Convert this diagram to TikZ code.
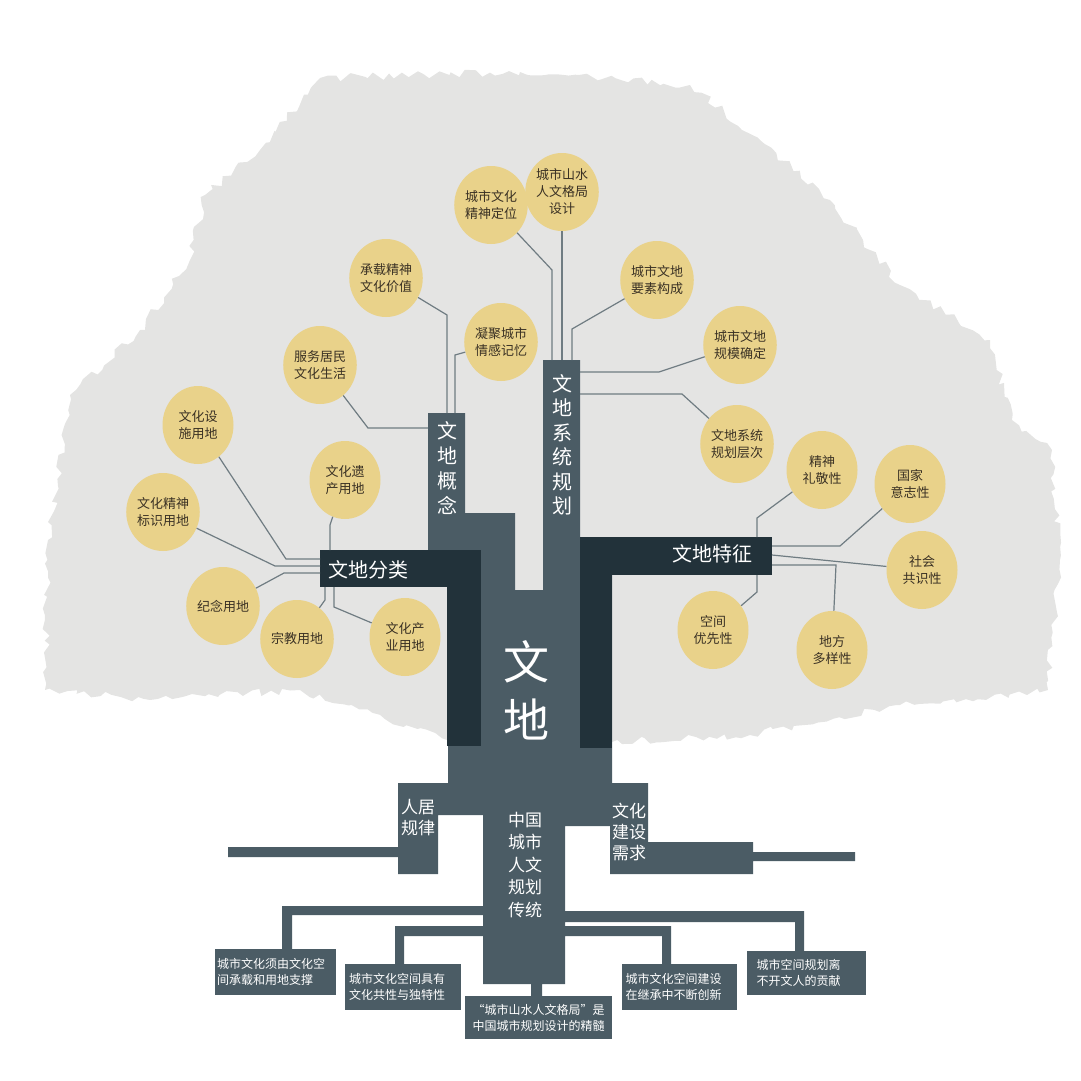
\documentclass[tikz,border=0pt]{standalone}
\usepackage{fontspec}
\setmainfont{Noto Sans CJK SC}
\usetikzlibrary{shapes.geometric,decorations.pathmorphing}
\definecolor{midg}{HTML}{4B5C65}
\definecolor{darkg}{HTML}{22323A}
\definecolor{leaf}{HTML}{E9D28A}
\definecolor{canopy}{HTML}{E4E4E3}
\definecolor{wire}{HTML}{6F7C82}
\definecolor{ink}{HTML}{3A3124}
\tikzset{
 ball/.style={ellipse,fill=leaf,minimum width=71pt,minimum height=78pt,inner sep=0pt,align=center,text=ink,font=\fontsize{13}{17}\selectfont},
 wl/.style={draw=wire,line width=1.2pt},
 wtxt/.style={text=white,align=center,inner sep=0pt},
 rootbox/.style={fill=midg,text=white,align=left,inner sep=0pt,font=\fontsize{12}{16}\selectfont},
}
\begin{document}
\begin{tikzpicture}[x=1pt,y=-1pt]
\useasboundingbox (0,0) rectangle (1080,1081);
% canopy
\fill[canopy,decorate,decoration={random steps,segment length=7pt,amplitude=4pt}]
 (45,690) -- (48,540) -- (70,395) -- (140,330) -- (190,260) -- (205,195) -- (260,150) -- (320,78) -- (520,72) -- (690,85) -- (760,140) -- (830,200) -- (900,285) -- (990,340) -- (1012,420) -- (1052,450) -- (1060,560) -- (1048,690) -- (900,705) -- (750,735) -- (612,742) -- (520,700) -- (447,740) -- (300,690) -- (150,700) -- cycle;
% mid trunk
\fill[midg] (428,413) -- (465,413) -- (465,513) -- (515,513) -- (515,590) -- (543,590) -- (543,360) -- (580,360) -- (580,537) -- (612,537) -- (612,783) -- (648,783) -- (648,842) -- (753,842) -- (753,852) -- (855,852) -- (855,861) -- (753,861) -- (753,874) -- (610,874) -- (610,826) -- (565,826) -- (565,911) -- (804,911) -- (804,951) -- (795,951) -- (795,922) -- (565,922) -- (565,926) -- (671,926) -- (671,964) -- (662,964) -- (662,936) -- (565,936) -- (565,984) -- (542,984) -- (542,996) -- (531,996) -- (531,984) -- (483,984) -- (483,936) -- (404,936) -- (404,964) -- (395,964) -- (395,926) -- (483,926) -- (483,915) -- (292,915) -- (292,949) -- (282,949) -- (282,906) -- (483,906) -- (483,815) -- (438,815) -- (438,874) -- (398,874) -- (398,857) -- (228,857) -- (228,847) -- (398,847) -- (398,783) -- (448,783) -- (448,550) -- (428,550) -- cycle;
% dark bars
\fill[darkg] (320,550) rectangle (481,587);
\fill[darkg] (447,550) rectangle (481,746);
\fill[darkg] (580,537) rectangle (772,575);
\fill[darkg] (580,537) rectangle (612,748);
% trunk texts
\node[wtxt,font=\fontsize{20}{24}\selectfont] (fl) at (368,570) {文地分类};
\node[wtxt,font=\fontsize{20}{24}\selectfont] (tz) at (712,554) {文地特征};
\node[wtxt,font=\fontsize{20}{25}\selectfont] (gn) at (447,468) {文\\地\\概\\念};
\node[wtxt,font=\fontsize{20}{24.5}\selectfont] (xt) at (562,445) {文\\地\\系\\统\\规\\划};
\node[wtxt,font=\fontsize{46}{58}\selectfont] (wd) at (526,690) {文\\地};
\node[wtxt,font=\fontsize{17}{21}\selectfont] (rj) at (418,818) {人居\\规律};
\node[wtxt,font=\fontsize{17}{21}\selectfont] (wh) at (629,832) {文化\\建设\\需求};
\node[wtxt,font=\fontsize{17}{22.5}\selectfont] (ct) at (525,865) {中国\\城市\\人文\\规划\\传统};
% root boxes
\node[rootbox,minimum width=121pt,minimum height=46pt,text width=117pt] (r1) at (275.5,972) {城市文化须由文化空\\间承载和用地支撑};
\node[rootbox,minimum width=116pt,minimum height=46pt,text width=108pt] (r2) at (403,987) {城市文化空间具有\\文化共性与独特性};
\node[rootbox,minimum width=147pt,minimum height=43pt,align=center] (r3) at (538.5,1017.5) {“城市山水人文格局”是\\中国城市规划设计的精髓};
\node[rootbox,minimum width=115pt,minimum height=46pt,text width=108pt] (r4) at (679.5,987) {城市文化空间建设\\在继承中不断创新};
\node[rootbox,minimum width=119pt,minimum height=44pt,text width=100pt] (r5) at (806.5,973) {城市空间规划离\\不开文人的贡献};
% circles
\node[ball] (b1) at (562,192) {城市山水\\人文格局\\设计};
\node[ball] (b2) at (491,205) {城市文化\\精神定位};
\node[ball] (b3) at (386,278) {承载精神\\文化价值};
\node[ball] (b4) at (501,342) {凝聚城市\\情感记忆};
\node[ball] (b5) at (320,365) {服务居民\\文化生活};
\node[ball] (b6) at (198,425) {文化设\\施用地};
\node[ball] (b7) at (345,480) {文化遗\\产用地};
\node[ball] (b8) at (163,512) {文化精神\\标识用地};
\node[ball] (b9) at (223,606) {纪念用地};
\node[ball] (b10) at (297,639) {宗教用地};
\node[ball] (b11) at (405,637) {文化产\\业用地};
\node[ball] (b12) at (657,280) {城市文地\\要素构成};
\node[ball] (b13) at (740,345) {城市文地\\规模确定};
\node[ball] (b14) at (737,444) {文地系统\\规划层次};
\node[ball] (b15) at (822,470) {精神\\礼敬性};
\node[ball] (b16) at (910,484) {国家\\意志性};
\node[ball] (b17) at (922,570) {社会\\共识性};
\node[ball] (b18) at (713,630) {空间\\优先性};
\node[ball] (b19) at (832,650) {地方\\多样性};
% connectors
\draw[wl] (b6) -- (286,559) -- (320,559);
\draw[wl] (b8) -- (275,566) -- (320,566);
\draw[wl] (b9) -- (284,573) -- (320,573);
\draw[wl] (b7) -- (330,525) -- (330,550);
\draw[wl] (b10) -- (325,600) -- (325,587);
\draw[wl] (b11) -- (334,607) -- (334,587);
\draw[wl] (b5) -- (368,428) -- (428,428);
\draw[wl] (b3) -- (447,315) -- (447,413);
\draw[wl] (b4) -- (455,355) -- (455,413);
\draw[wl] (b2) -- (552,270) -- (552,360);
\draw[wl] (b1) -- (562,360);
\draw[wl] (b12) -- (572,329) -- (572,360);
\draw[wl] (b13) -- (659,372) -- (580,372);
\draw[wl] (b14) -- (682,394) -- (580,394);
\draw[wl] (b15) -- (757,518) -- (757,537);
\draw[wl] (b16) -- (840,546) -- (772,546);
\draw[wl] (b17) -- (772,555);
\draw[wl] (b19) -- (836,565) -- (772,565);
\draw[wl] (b18) -- (757,592) -- (757,575);
\end{tikzpicture}
\end{document}
